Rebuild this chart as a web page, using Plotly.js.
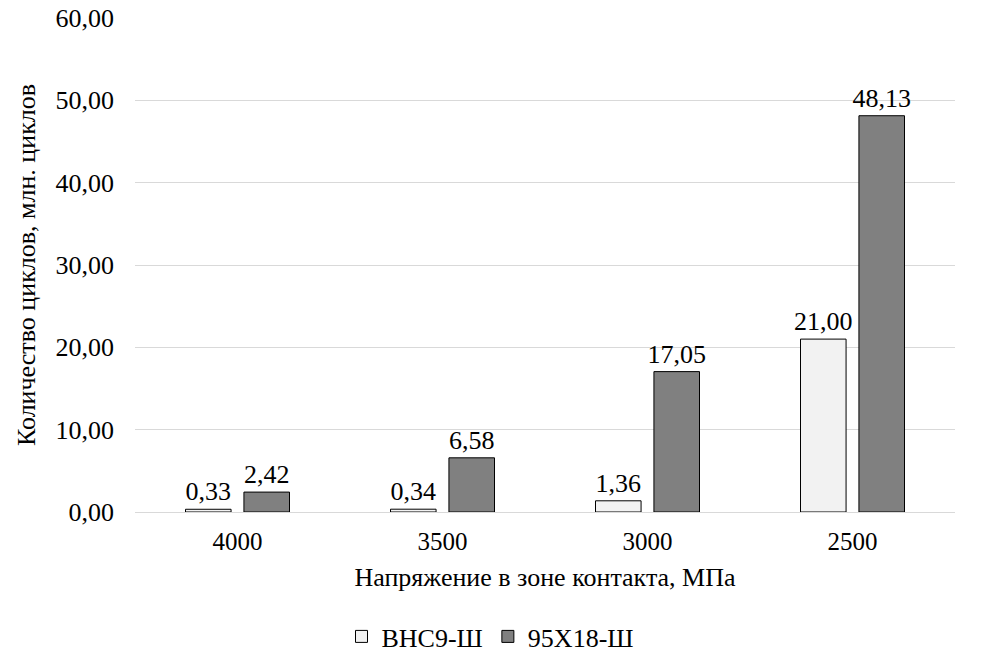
<!DOCTYPE html>
<html><head><meta charset="utf-8">
<script src="https://cdn.plot.ly/plotly-3.0.1.min.js"></script>
<style>body{margin:0;background:#fff}#c{width:981px;height:670px}</style>
</head><body><div id="c"></div>
<script>
var categories = ["4000", "3500", "3000", "2500"];
var seriesNames = ["ВНС9-Ш", "95Х18-Ш"];
var vns9 = [0.33, 0.34, 1.36, 21.00];
var x95 = [2.42, 6.58, 17.05, 48.13];
var yTicks = [0, 10, 20, 30, 40, 50, 60];

function fmt(v){ return v.toFixed(2).replace('.', ','); }
var F = "Liberation Serif";

var traces = [
  {type:'bar', name:seriesNames[0], x:categories, y:vns9,
   text:vns9.map(fmt), textposition:'outside', cliponaxis:false, constraintext:'none',
   textfont:{family:F,size:26,color:'#000'},
   marker:{color:'#f2f2f2', line:{color:'#000', width:1}}, hoverinfo:'none'},
  {type:'bar', name:seriesNames[1], x:categories, y:x95,
   text:x95.map(fmt), textposition:'outside', cliponaxis:false, constraintext:'none',
   textfont:{family:F,size:26,color:'#000'},
   marker:{color:'#808080', line:{color:'#000', width:1}}, hoverinfo:'none'}
];

var layout = {
  width:981, height:670,
  margin:{l:135, r:26, t:18, b:158},
  paper_bgcolor:'#fff', plot_bgcolor:'#fff',
  font:{family:F, size:26, color:'#000'},
  barmode:'group', bargap:0.43, bargroupgap:0.22,
  xaxis:{type:'category', tickfont:{family:F,size:25}, ticklabelstandoff:7,
         showline:true, linecolor:'#d9d9d9', linewidth:1,
         title:{text:'Напряжение в зоне контакта, МПа', font:{family:F,size:26}, standoff:13}},
  yaxis:{range:[0,60], tickvals:yTicks, ticktext:yTicks.map(fmt),
         gridcolor:'#d9d9d9', gridwidth:1, zeroline:false, showline:false,
         tickfont:{family:F,size:26}, ticklabelstandoff:20,
         title:{text:'Количество циклов, млн. циклов', font:{family:F,size:26}, standoff:12}},
  showlegend:true,
  legend:{orientation:'h', xref:'container', yref:'container', x:0.5, xanchor:'center',
          y:0.05, yanchor:'middle', font:{family:F,size:26}, traceorder:'normal'}
};
Plotly.newPlot('c', traces, layout, {displayModeBar:false, staticPlot:true});
</script></body></html>
